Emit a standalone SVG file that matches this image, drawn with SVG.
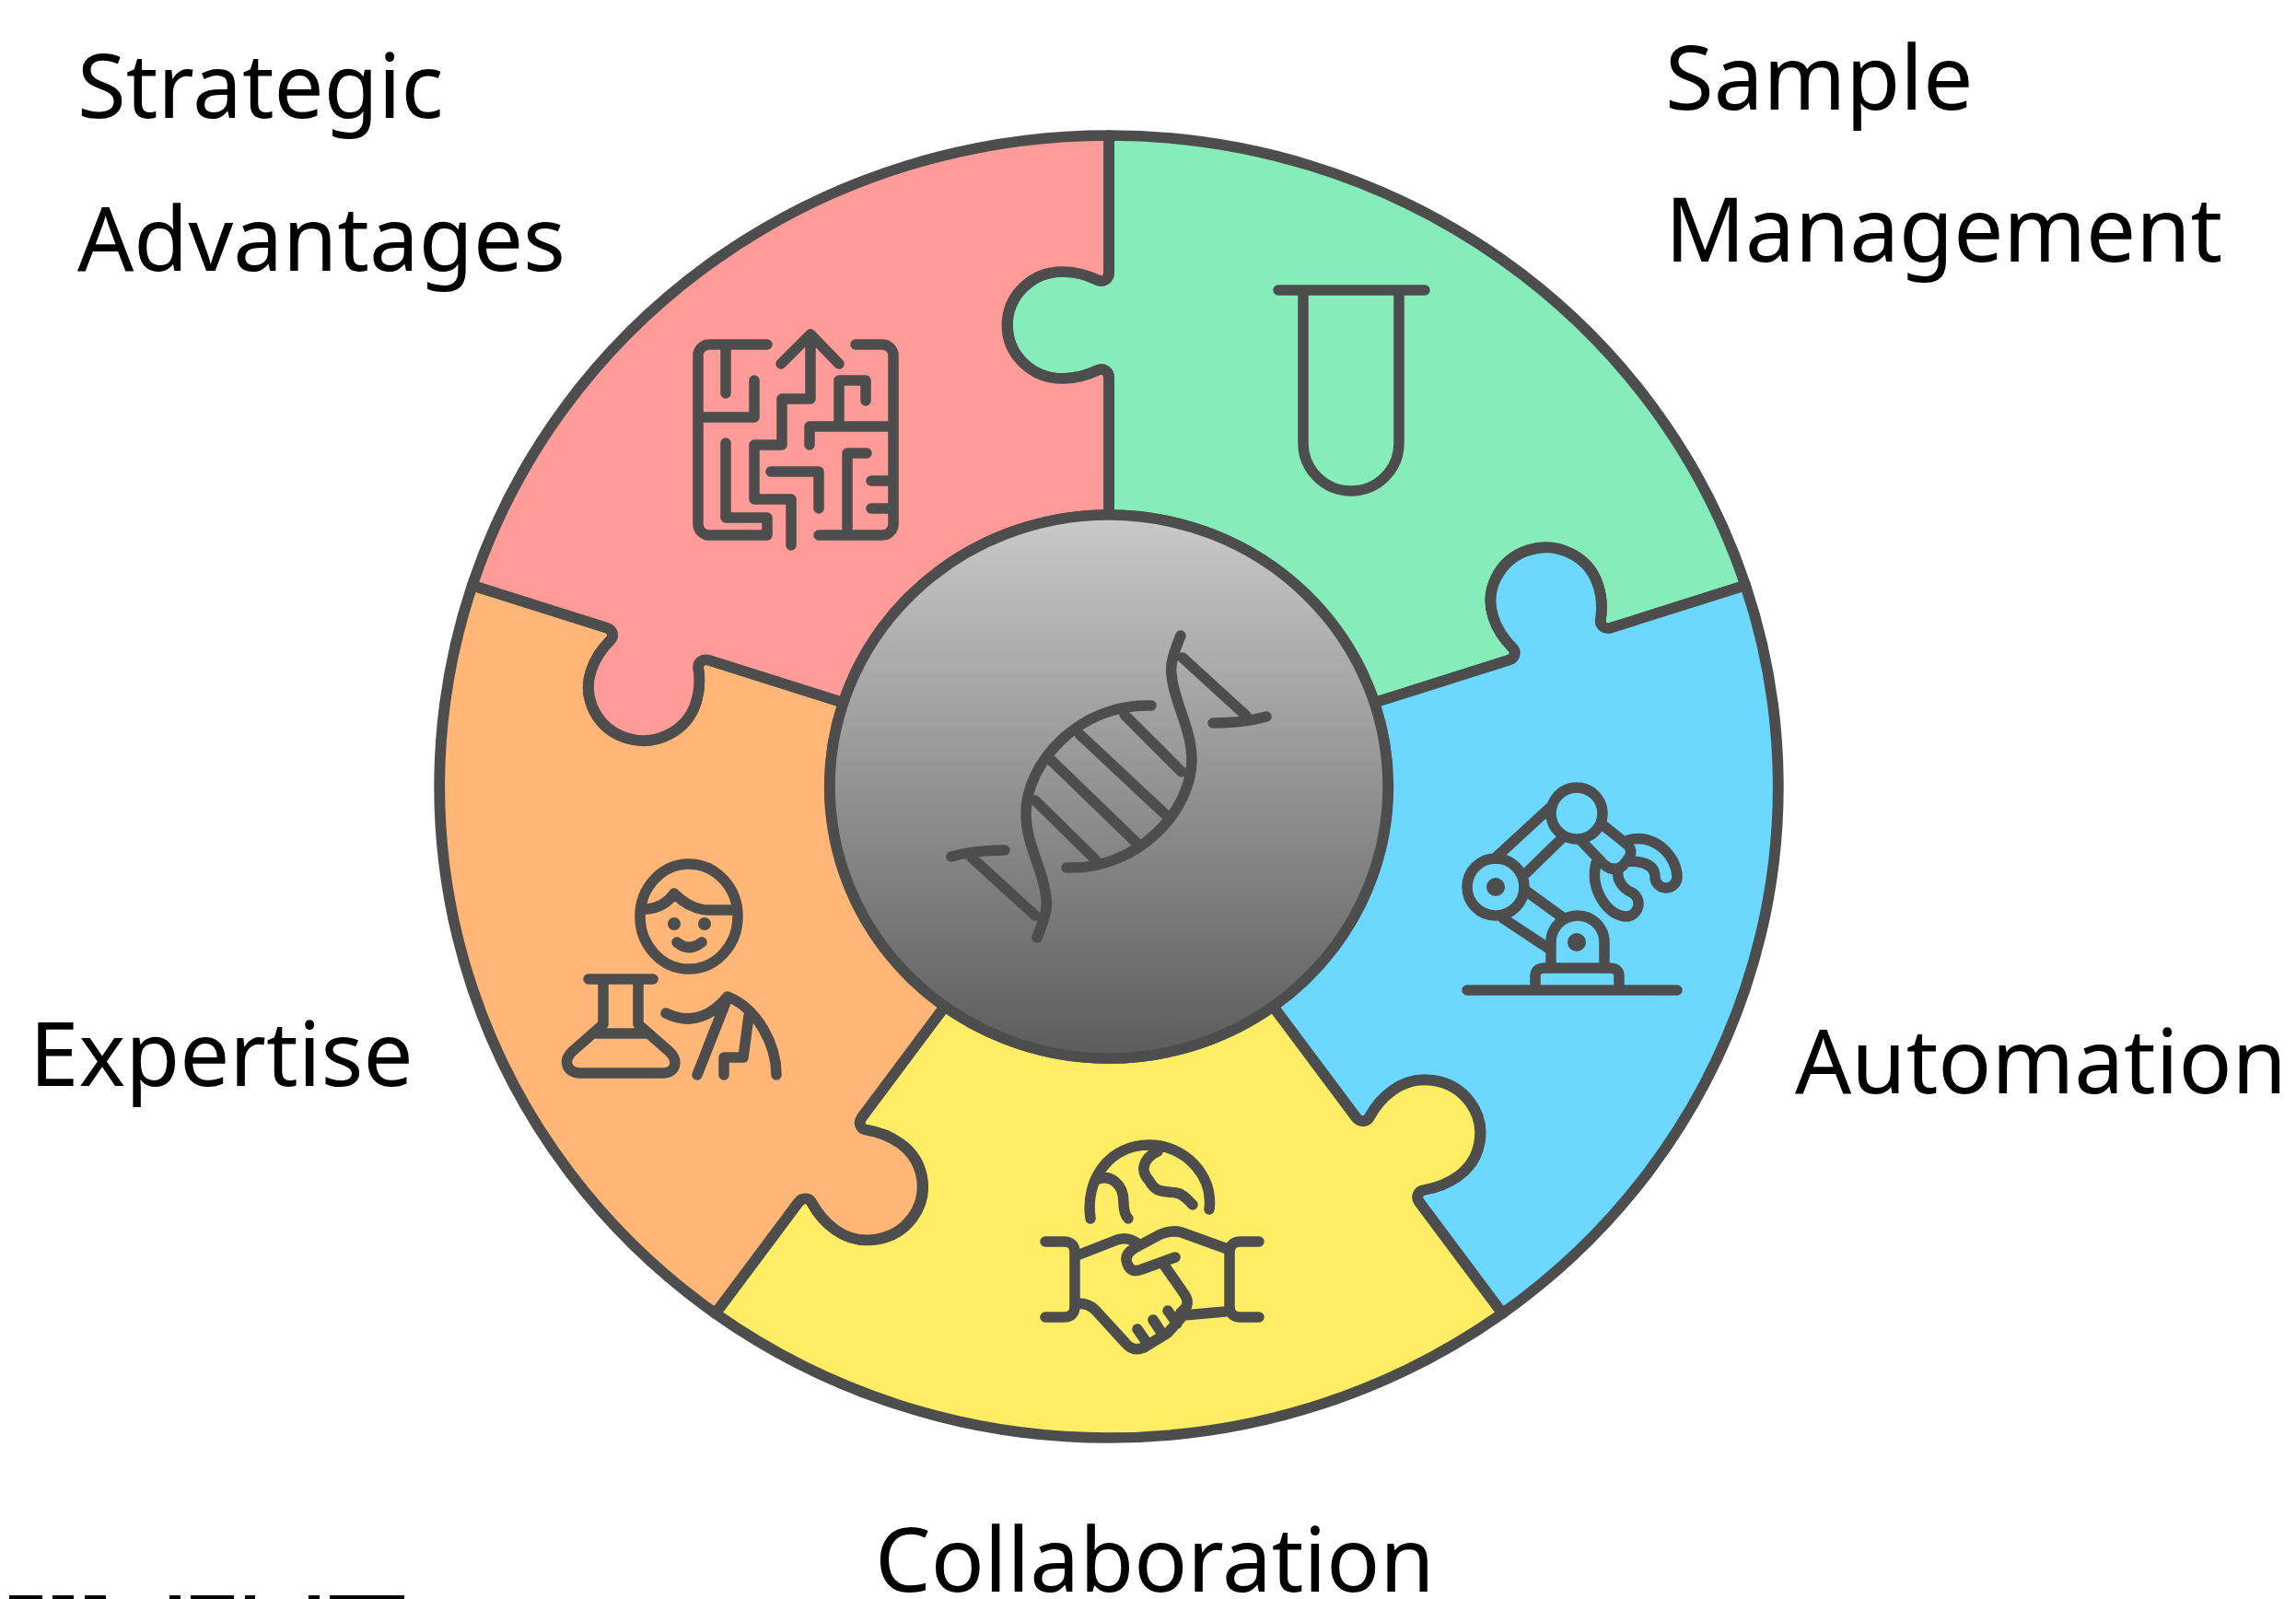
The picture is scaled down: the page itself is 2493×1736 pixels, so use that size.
<svg xmlns="http://www.w3.org/2000/svg" xmlns:xlink="http://www.w3.org/1999/xlink" width="2493" height="1736" viewBox="0 0 2493 1736">
<style>
.piece{stroke:#4d4d4d;stroke-width:11.500;stroke-linejoin:round}
.icon{fill:none;stroke:#4d4d4d;stroke-width:11.500;stroke-linecap:round;stroke-linejoin:round}
.dot{fill:#4d4d4d}
.label{font-family:"Noto Sans","Open Sans",sans-serif;font-size:96px;fill:#000}
</style>
<defs>
<linearGradient id="hubFill" x1="0" y1="0" x2="0" y2="1"><stop offset="0" stop-color="#c9c9c9"/><stop offset="1" stop-color="#5c5c5c"/></linearGradient>
<path id="piece" d="M0,-295 L0,-444 C0,-451 -6,-455 -12,-452 C-20,-448 -33,-443 -49,-443 A58 58 0 1 1 -49,-559 C-33,-559 -20,-554 -12,-550 C-6,-547 0,-551 0,-558 L0,-707 A707 707 0 0 1 672.40,-218.48 L530.69,-172.43 C524.03,-170.27 518.38,-174.74 519.37,-181.37 C520.71,-190.22 521.44,-204.12 516.50,-219.34 A58 58 0 1 0 406.18,-183.50 C411.12,-168.28 419.89,-157.46 426.17,-151.09 C430.88,-146.31 428.93,-139.37 422.27,-137.20 L280.56,-91.16 A295 295 0 0 0 0,-295 Z"/>
</defs>
<rect width="2493" height="1736" fill="#fff"/>

<g id="sample-management">
<use href="#piece" class="piece" fill="#86ecba" transform="translate(1204 854) scale(1.028 1)"/>
<path class="icon" d="M1388,315 H1547 M1415,315 V481 A52 52 0 0 0 1519,481 V315"/>
<text class="label" x="1808" y="119">Sample</text>
<text class="label" x="1808" y="284">Management</text>
</g>

<g id="automation">
<use href="#piece" class="piece" fill="#6cd7ff" transform="translate(1204 854) scale(1.028 1) rotate(72)"/>
<path class="icon" d="M1593,1075 H1821 M1667,1075 V1060 Q1667,1051 1677,1051 H1748 Q1758,1051 1758,1060 V1075 M1684,1051 V1023 A29 29 0 0 1 1742,1023 V1051 M1623,932 L1685,875 M1657,948 L1697,909 M1658,968 L1698,997 M1632,997 L1682,1030 M1717,913 L1741,938 Q1752,948 1762,940 L1766,935 Q1775,925 1767,917 L1742,897 M1768,912 C1797,904 1821,930 1821,952 A12 12 0 0 1 1797,952 C1797,940 1786,935 1768,935 M1733,937 C1726,965 1745,995 1767,995 A14 14 0 0 0 1772,969 C1762,965 1755,955 1757,945"/>
<circle class="icon" cx="1624" cy="963" r="31"/>
<circle class="icon" cx="1712" cy="883" r="28"/>
<circle class="dot" cx="1624" cy="963" r="10"/>
<circle class="dot" cx="1712" cy="1023" r="10"/>
<text class="label" x="1949" y="1187">Automation</text>
</g>

<g id="collaboration">
<use href="#piece" class="piece" fill="#ffee65" transform="translate(1204 854) scale(1.028 1) rotate(144)"/>
<path class="icon" d="M1184,1323 C1178,1280 1205,1243 1248,1243 C1285,1243 1318,1275 1313,1313 M1193,1280 C1205,1275 1220,1285 1220,1305 Q1220,1318 1225,1323 M1257,1250 C1240,1258 1238,1272 1248,1282 C1255,1295 1262,1293 1277,1295 C1285,1296 1290,1303 1295,1308 M1135,1348 H1155 Q1167,1348 1167,1360 V1418 Q1167,1430 1155,1430 H1135 M1367,1348 H1347 Q1335,1348 1335,1360 V1418 Q1335,1430 1347,1430 H1367 M1172,1362 L1213,1346 Q1225,1342 1235,1350 M1330,1355 L1283,1338 Q1273,1335 1260,1340 L1232,1355 Q1220,1362 1224,1372 Q1228,1383 1240,1378 L1276,1365 M1263,1372 L1286,1405 Q1294,1417 1282,1425 M1170,1415 Q1183,1415 1190,1423 L1222,1458 Q1230,1468 1242,1463 L1268,1447 L1285,1428 L1330,1424 M1235,1443 L1244,1456 M1252,1433 L1262,1448 M1268,1423 L1278,1437"/>
<text class="label" x="950" y="1728">Collaboration</text>
</g>

<g id="expertise">
<use href="#piece" class="piece" fill="#ffb677" transform="translate(1204 854) scale(1.028 1) rotate(216)"/>
<ellipse class="icon" cx="748" cy="995" rx="53" ry="57"/>
<path class="icon" d="M702,987 Q722,985 732,970 Q750,988 770,988 H797 M735,1023 Q748,1034 762,1023 M639,1063 H709 M655,1063 V1112 L622,1141 C610,1152 616,1165 630,1165 H720 C733,1165 738,1152 726,1141 L693,1112 V1063 M648,1122 H703 M723,1100 Q760,1118 790,1082 C823,1095 843,1135 843,1167 M790,1083 L757,1167 M813,1103 L807,1148 H786 V1167"/>
<circle class="dot" cx="732" cy="1003" r="7"/>
<circle class="dot" cx="765" cy="1003" r="7"/>
<text class="label" x="32" y="1179">Expertise</text>
</g>

<g id="strategic-advantages">
<use href="#piece" class="piece" fill="#ff9c99" transform="translate(1204 854) scale(1.028 1) rotate(288)"/>
<path class="icon" d="M833,374 H770 A12 12 0 0 0 758,386 V569 A12 12 0 0 0 770,581 H833 V562 H788 V481 M788,374 V427 M758,453 H819 V413 M880,363 V433 H849 V483 H819 V542 H859 V592 M848,395 L880,363 L911,395 M929,374 H958 A12 12 0 0 1 970,386 V569 A12 12 0 0 1 958,581 H889 M879,483 V463 H970 M911,463 V413 H940 V435 M920,581 V492 H941 M837,512 H889 V552 M946,522 H970 M946,552 H970"/>
<text class="label" x="84" y="128">Strategic</text>
<text class="label" x="84" y="294">Advantages</text>
</g>

<g id="hub">
<ellipse cx="1204" cy="854" rx="303" ry="295" fill="url(#hubFill)" stroke="#4d4d4d" stroke-width="11.500"/>
<path class="icon" d="M1282,690 C1276,705 1270,720 1272,732 C1274,762 1294,790 1294,825 C1294,880 1235,945 1158,942 M1126,1018 C1132,1003 1138,988 1136,976 C1134,946 1114,918 1114,883 C1114,828 1173,763 1250,766 M1284,714 L1353,777 M1317,785 Q1350,785 1375,778 M1124,994 L1055,931 M1091,923 Q1058,923 1033,930 M1221,776 L1283,838 M1172,797 L1264,883 M1142,826 L1233,914 M1124,869 L1189,933"/>
</g>

<g id="clipped-text-fragments" fill="#000">
<rect x="10" y="1732" width="36" height="4"/><rect x="57" y="1732" width="23" height="4"/><rect x="92" y="1732" width="23" height="4"/><rect x="184" y="1732" width="12" height="4"/><rect x="207" y="1732" width="47" height="4"/><rect x="266" y="1732" width="11" height="4"/><rect x="335" y="1732" width="12" height="4"/><rect x="358" y="1732" width="81" height="4"/>
</g>
</svg>
